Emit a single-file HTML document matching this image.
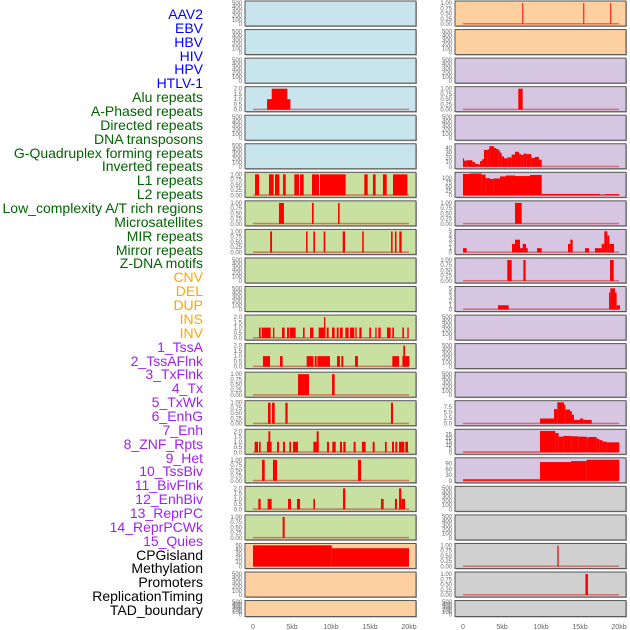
<!DOCTYPE html>
<html><head><meta charset="utf-8">
<style>
body{margin:0;background:#fff;width:630px;height:630px;overflow:hidden;font-family:"Liberation Sans",sans-serif;}
#lbls div{position:absolute;right:427px;font-size:14px;line-height:14px;white-space:nowrap;}
</style></head><body>
<div id="lbls"></div>
<svg id="c" width="630" height="630" style="position:absolute;left:0;top:0"></svg>
<script>
const labels=["AAV2","EBV","HBV","HIV","HPV","HTLV-1","Alu repeats","A-Phased repeats","Directed repeats","DNA transposons","G-Quadruplex forming repeats","Inverted repeats","L1 repeats","L2 repeats","Low_complexity A/T rich regions","Microsatellites","MIR repeats","Mirror repeats","Z-DNA motifs","CNV","DEL","DUP","INS","INV","1_TssA","2_TssAFlnk","3_TxFlnk","4_Tx","5_TxWk","6_EnhG","7_Enh","8_ZNF_Rpts","9_Het","10_TssBiv","11_BivFlnk","12_EnhBiv","13_ReprPC","14_ReprPCWk","15_Quies","CPGisland","Methylation","Promoters","ReplicationTiming","TAD_boundary"];
const labelColors=["#0000ff","#0000ff","#0000ff","#0000ff","#0000ff","#0000ff","#006400","#006400","#006400","#006400","#006400","#006400","#006400","#006400","#006400","#006400","#006400","#006400","#006400","#ffa500","#ffa500","#ffa500","#ffa500","#ffa500","#a020f0","#a020f0","#a020f0","#a020f0","#a020f0","#a020f0","#a020f0","#a020f0","#a020f0","#a020f0","#a020f0","#a020f0","#a020f0","#a020f0","#a020f0","#000","#000","#000","#000","#000"];
const xTicks=[0,5,10,15,20];
const xTickLabels=["0","5kb","10kb","15kb","20kb"];
const ticksEmpty=[0,100,200,300,400,500];
const ticks1=[0,0.25,0.5,0.75,1];
const ticks2=[0,0.5,1,1.5,2];
// segments: [startKb, endKb, value]
const segHIV=[[1.8,4.8,1],[2.4,4.4,2]];
const segAlu=[[0.26,0.77,1],[2.05,2.65,1],[2.82,3.38,1],[3.85,4.19,1],[5.3,5.9,1],[6.03,6.5,1],[7.56,8.46,1],[8.59,11.88,1],[14.27,14.7,1],[15.38,15.72,1],[16.66,17.14,1],[17.95,19.79,1]];
const segAPhased=[[3.33,3.97,1],[7.56,7.78,1],[10.9,11.1,1]];
const segDirected=[[2.2,2.44,1],[6.8,7.0,1],[7.74,7.95,1],[9.06,9.27,1],[11.5,11.8,1],[14.0,14.2,1],[17.7,17.9,1],[18.2,18.4,1],[18.76,19.06,1]];
const segInverted=[[0.77,0.98,1],[1.11,2.26,1],[2.56,2.74,1],[3.72,4.06,1],[4.36,4.66,1],[4.74,5.47,1],[6.41,6.62,1],[7.31,7.74,1],[8.42,9.27,1],[9.1,9.27,2],[9.44,9.7,1],[10.13,10.47,1],[10.73,10.98,1],[11.15,11.5,1],[11.84,12.26,1],[12.44,12.99,1],[13.12,13.29,1],[13.63,13.93,1],[14.91,15.13,1],[15.68,15.85,1],[16.07,16.37,1],[17.18,17.65,1],[17.86,18.08,1],[19.15,19.36,1],[19.79,19.96,1]];
const segL1=[[1.28,2.18,1],[3.46,3.8,1],[6.88,7.74,1],[7.9,8.16,1],[8.25,9.87,1],[10.77,11.15,1],[11.32,11.58,1],[13.08,13.46,1],[17.86,18.72,1],[19.15,20.05,1],[19.27,19.49,2]];
const segL2=[[5.77,7.18,1],[10.13,10.47,1]];
const segLowComp=[[1.92,2.26,1],[2.44,2.78,1],[4.15,4.44,1],[17.69,17.95,1]];
const segMicro=[[0.21,0.64,1],[0.77,0.98,1],[1.79,2.39,1],[1.97,2.22,2],[3.08,3.33,1],[3.85,4.1,1],[4.66,4.87,1],[5.13,5.77,1],[7.74,8.42,1],[8.16,8.42,2],[9.49,9.74,1],[10.17,10.6,1],[11.15,11.41,1],[11.58,11.88,1],[12.9,13.16,1],[13.97,14.44,1],[15.34,15.6,1],[16.92,17.14,1],[17.82,18.08,1],[18.25,18.5,1],[18.72,19.4,1],[19.53,19.87,1]];
const segMIR=[[1.15,1.5,1],[2.56,3.08,1],[13.46,13.85,1]];
const segMirror=[[0.68,0.98,1],[1.88,2.39,1],[4.49,4.87,1],[5.64,6.03,1],[7.74,7.95,1],[11.54,11.84,2],[16.41,16.75,1],[18.2,18.46,1],[18.72,19.02,2],[19.02,19.49,1]];
const segZDNA=[[3.8,4.06,1]];
const segCPGleft=[[0,10.1,50],[10.1,20,43]];
const segR0=[[7.6,7.72,1],[15.42,15.54,1],[18.88,19.0,1]];
const segR3=[[7.09,7.65,1]];
const segR5=[[0,0.09,18],[0.09,0.47,13],[0.47,1.2,14],[1.2,1.54,10],[1.54,1.97,6],[1.97,2.18,5],[2.18,2.44,12],[2.44,2.69,16],[2.69,3.16,36],[3.16,3.38,37],[3.38,3.97,44],[3.97,4.23,40],[4.23,4.53,38],[4.53,4.74,35],[4.74,4.96,30],[4.96,5.26,22],[5.26,5.68,18],[5.68,6.24,20],[6.24,6.67,26],[6.67,7.18,32],[7.18,7.48,27],[7.48,7.74,25],[7.74,8.16,28],[8.16,8.76,27],[8.76,9.23,19],[9.23,9.74,21],[9.74,10.09,15]];
const segR6=[[0,0.9,124],[0.9,2.39,127],[2.39,2.9,120],[2.9,3.46,100],[3.46,3.89,95],[3.89,4.74,98],[4.74,5.51,110],[5.51,6.67,115],[6.67,8.59,112],[8.59,10.09,118],[10.09,17.56,8],[17.56,18.2,4],[18.2,20.04,7]];
const segR7=[[6.67,7.52,1]];
const segR8=[[0,0.47,1],[6.28,6.67,2],[6.67,7.31,3],[7.31,7.65,1],[7.65,8.08,2],[8.08,8.3,1],[9.49,10.09,1],[13.46,13.76,2],[13.76,14.06,3],[15.64,16.15,1],[16.92,17.78,1],[17.78,18.12,2],[18.12,18.5,5],[18.5,18.76,4],[18.76,19.36,2]];
const segR9=[[5.68,6.24,1],[7.74,8.03,1],[18.85,19.32,1]];
const segR10=[[4.49,5.85,1],[18.72,18.89,4],[18.89,19.49,5],[19.49,19.7,4],[19.7,20.13,1]];
const segR14=[[9.87,11.67,2.3],[11.67,12.09,6.5],[12.09,12.95,9.5],[12.95,13.12,8.5],[13.12,13.72,6.3],[13.72,13.97,5.5],[13.97,14.23,4],[14.23,15.0,1.7],[15.0,15.43,2.3],[15.43,16.5,1.7]];
const segR15=[[0,9.87,0.5],[9.87,11.84,30],[11.84,12.26,27],[12.26,12.86,22],[12.86,13.93,23],[13.93,14.79,22.5],[14.79,15.85,22],[15.85,16.15,21],[16.15,17.14,21.5],[17.14,17.48,19],[17.48,17.9,17],[17.9,18.42,15],[18.42,20.04,14]];
const segR16=[[0,9.87,8],[9.87,13.85,98],[13.85,15.85,103],[15.85,20.04,110]];
const segR19=[[12.1,12.26,1]];
const segR20=[[15.7,16.02,1]];

const BG={b:"#c8e4ec",g:"#c8e0a0",o:"#ffd09f",p:"#d6c6e2",k:"#d0d0d0"};
function P(bg,seg,ymax,ticks,dec){return {bg,seg,ymax,ticks,dec};}
const E=(bg)=>P(bg,null,520,ticksEmpty,0);
const leftCol=[E('b'),E('b'),E('b'),P('b',segHIV,2.1,ticks2,1),E('b'),E('b'),
 P('g',segAlu,1.05,ticks1,2),P('g',segAPhased,1.05,ticks1,2),P('g',segDirected,1.05,ticks1,2),E('g'),E('g'),
 P('g',segInverted,2.1,ticks2,1),P('g',segL1,2.1,ticks2,1),P('g',segL2,1.05,ticks1,2),P('g',segLowComp,1.05,ticks1,2),
 P('g',segMicro,2.1,ticks2,1),P('g',segMIR,1.05,ticks1,2),P('g',segMirror,2.1,ticks2,1),P('g',segZDNA,1.05,ticks1,2),
 P('o',segCPGleft,52,[0,10,20,30,40,50],0),E('o'),E('o')];
const rightCol=[P('o',segR0,1.05,ticks1,2),E('o'),E('p'),P('p',segR3,1.05,ticks1,2),E('p'),
 P('p',segR5,47,[0,10,20,30,40],0),P('p',segR6,128,[0,25,50,75,100],0),P('p',segR7,1.05,ticks1,2),
 P('p',segR8,5.2,[0,1,2,3,4,5],0),P('p',segR9,1.05,ticks1,2),P('p',segR10,5.2,[0,1,2,3,4,5],0),
 E('p'),E('p'),E('p'),P('p',segR14,9.8,[0,2.5,5,7.5],1),P('p',segR15,31,[0,5,10,15,20,25],0),
 P('p',segR16,115,[0,30,60,90],0),E('k'),E('k'),P('k',segR19,1.05,ticks1,2),P('k',segR20,1.05,ticks1,2),E('k')];

const L=document.getElementById('lbls');
labels.forEach((t,i)=>{const d=document.createElement('div');


d.textContent=t;d.style.color=labelColors[i];d.style.top=(7+13.86*i)+'px';L.appendChild(d);});

const S=document.getElementById('c');const NS="http://www.w3.org/2000/svg";
function el(tag,a,p){const e=document.createElementNS(NS,tag);for(const k in a)e.setAttribute(k,a[k]);(p||S).appendChild(e);return e;}
function drawCol(col,px,name){
 col.forEach((p,i)=>{
  const top=1+28.55*i, h=(i==21)?16:25;
  const g=el('g',{});
  
  
  el('rect',{x:px+1,y:top+1,width:171,height:h,fill:'#aaa'},g);
  el('rect',{x:px,y:top,width:171,height:h,fill:BG[p.bg],stroke:'#555','stroke-width':1},g);
  const x0=px+8,xs=7.8;const yb=top+h-2,yt=top+1;
  const ys=v=>yb-(v/p.ymax)*(yb-yt);
  p.ticks.forEach(v=>{const t=el('text',{x:px-3,y:ys(v)+2,'font-size':6,fill:'#666','text-anchor':'end'},g);
   
   
   t.textContent=v.toFixed(p.dec);});
  if(p.seg){
   el('rect',{x:x0,y:yb-1,width:20*xs,height:1.5,fill:'#d03030',opacity:0.6},g);
   p.seg.forEach(s=>{const r=el('rect',{x:x0+s[0]*xs,y:ys(s[2]),width:Math.max(1,(s[1]-s[0])*xs),height:yb-ys(s[2]),fill:'#ff0000'},g);
    
    });
  }
 });
 xTicks.forEach((v,j)=>{const t=el('text',{x:px+8+v*7.8,y:629,'font-size':7,fill:'#666','text-anchor':'middle'});
  
  
  t.textContent=xTickLabels[j];});
}
drawCol(leftCol,245,'left');
drawCol(rightCol,455,'right');
</script>
</body></html>
